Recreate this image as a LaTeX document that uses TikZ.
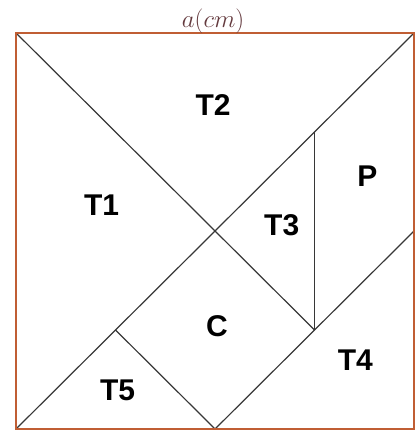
\documentclass[tikz,border=0pt]{standalone}
\usepackage{fontspec}
\setsansfont{Liberation Sans}
\definecolor{frame}{RGB}{192,94,52}
\definecolor{edge}{RGB}{55,55,55}
\definecolor{dimtext}{RGB}{100,58,62}
\begin{document}
\begin{tikzpicture}[x=99.5pt,y=99pt,
  piece/.style={font=\sffamily\bfseries\fontsize{30}{30}\selectfont}]
 \useasboundingbox (-0.161,-0.01) rectangle (4.05,4.333);
 % corners and cut points of the square
 \coordinate (bl) at (0,0); \coordinate (br) at (4,0);
 \coordinate (tl) at (0,4); \coordinate (tr) at (4,4);
 \coordinate (mid) at (2,2); \coordinate (bm) at (2,0);
 \coordinate (rm) at (4,2); \coordinate (q1) at (1,1);
 \coordinate (q3) at (3,1); \coordinate (q4) at (3,3);
 \draw[edge,line width=1.2pt] (tl)--(q3);
 \draw[edge,line width=1.2pt] (bl)--(tr);
 \draw[edge,line width=1.2pt] (q4)--(q3);
 \draw[edge,line width=1.2pt] (rm)--(bm);
 \draw[edge,line width=1.2pt] (q1)--(bm);
 \draw[frame,line width=2.4pt] (bl) rectangle (tr);
 \node[dimtext,font=\fontsize{26}{26}\selectfont] (side) at (1.98,4.12) {$a(cm)$};
 \node[piece] (t1) at (0.86,2.26) {T1};
 \node[piece] (t2) at (1.98,3.27) {T2};
 \node[piece] (t3) at (2.67,2.06) {T3};
 \node[piece] (p) at (3.53,2.55) {P};
 \node[piece] (c) at (2.02,1.04) {C};
 \node[piece] (t4) at (3.41,0.70) {T4};
 \node[piece] (t5) at (1.02,0.39) {T5};
\end{tikzpicture}
\end{document}
